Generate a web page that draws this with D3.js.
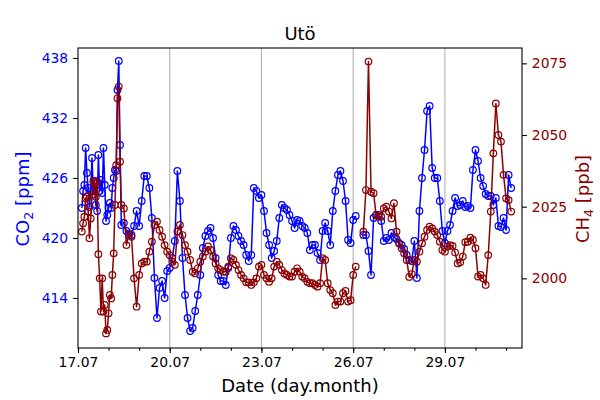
<!DOCTYPE html>
<html>
<head>
<meta charset="utf-8">
<script src="https://cdn.jsdelivr.net/npm/d3@7"></script>
<style>
  body { margin: 0; background: #fff; }
  text { font-family: "DejaVu Sans", sans-serif; }
</style>
</head>
<body>
<svg id="chart" width="600" height="400"></svg>
<script>
// hours since 17.07 00:00 (hourly at the start, then every 2 h)
const hours = [3,4,5,6,7,8,9,10,11,12,13,14,15,16,17,18,19,20,21,22,23,24,25,26,27,28,29,30,31,32,33,34,
  36,38,40,42,44,46,48,50,52,54,56,58,60,62,64,66,68,70,72,74,76,78,80,82,84,86,88,90,92,94,96,98,
  100,102,104,106,108,110,112,114,116,118,120,122,124,126,128,130,132,134,136,138,140,142,144,146,148,
  150,152,154,156,158,160,162,164,166,168,170,172,174,176,178,180,182,184,186,188,190,192,194,196,198,
  200,202,204,206,208,210,212,214,216,218,220,222,224,226,228,230,232,234,236,238,240,242,244,246,248,
  250,252,254,256,258,260,262,264,266,268,270,272,274,276,278,280,282,284,286,288,290,292,294,296,298,
  300,302,304,306,308,310,312,314,316,318,320,322,324,326,328,330,332,334,336,338,340];

// CO2 [ppm]
const co2 = [423.0,424.7,425.3,429.0,426.5,425.0,423.1,424.7,428.0,424.7,425.7,423.3,422.7,428.3,424.7,425.8,
  424.5,429.0,425.3,421.7,422.3,423.0,423.5,423.0,425.0,426.0,426.8,426.7,434.8,437.7,429.3,421.3,
  421.5,420.7,420.3,420.3,421.2,422.7,421.2,423.7,426.2,426.2,425.0,422.0,416.0,412.0,415.0,415.7,
  414.0,416.7,417.0,418.0,419.7,426.7,423.7,418.0,414.3,412.0,410.7,411.0,412.7,414.3,416.3,419.0,
  420.2,420.7,421.0,420.0,418.0,416.3,415.7,415.7,415.3,417.0,420.0,421.2,420.8,420.2,419.7,419.3,
  418.3,417.7,418.3,425.0,424.7,424.0,424.3,422.7,420.5,419.3,418.0,418.7,419.7,422.0,423.3,423.0,
  422.8,422.3,421.7,421.0,421.8,421.7,421.2,421.0,420.5,418.8,419.3,419.3,418.5,417.8,420.7,421.5,
  420.7,419.3,422.7,424.7,426.3,426.7,425.7,423.7,419.8,419.5,421.8,422.2,null,null,420.3,420.3,
  418.7,416.3,422.0,422.3,422.3,421.7,419.7,420.0,419.8,420.5,420.1,419.9,419.5,419.3,418.9,418.3,
  417.8,417.7,419.7,416.0,422.7,426.0,428.8,432.7,433.2,427.0,426.0,426.0,423.7,420.7,419.5,420.7,
  421.3,422.7,424.0,423.2,423.3,423.7,423.1,423.2,423.0,426.8,428.8,427.7,426.0,425.2,424.4,424.2,
  424.2,423.3,424.0,421.2,421.1,422.0,420.8,426.3,425.0];

// CH4 [ppb]
const ch4 = [2016.3,2019.2,2021.5,2027.9,2028.5,2023.3,2014.0,2020.9,2029.1,2033.9,2033.1,2028.5,2033.7,
  2008.4,2000.0,1988.4,2000.0,1988.4,1990.7,1980.8,1982.0,1987.8,1994.2,1993.0,2001.2,2008.7,2025.6,
  2039.5,2062.8,2066.9,2040.7,2025.6,
  2024.4,2011.6,2015.7,2014.5,2000.0,1990.1,2001.2,2005.2,2005.8,2005.8,2009.3,2012.8,2018.6,2019.8,
  2016.9,2014.5,2011.6,2009.3,2008.1,2005.8,2004.7,2016.3,2018.6,2015.1,2011.6,2009.3,2006.4,2002.3,
  2001.7,2003.5,2005.8,2007.6,2009.3,2011.1,2009.9,2007.6,2005.2,2003.5,2002.9,2002.3,2002.3,2004.1,
  2007.0,2006.4,2004.7,2002.9,2001.2,2000.0,1998.6,1998.6,1997.7,1998.6,2000.0,2004.1,2004.7,2001.2,
  2000.0,1998.8,2000.0,2004.1,2005.8,2004.7,2002.9,2001.7,2001.2,2000.6,2000.6,2002.3,2003.5,2002.3,
  2000.6,2000.0,1998.8,1998.3,1998.3,1997.7,1997.1,1998.3,2007.0,2006.4,1998.3,1995.9,1994.8,1990.7,
  1991.9,1991.9,1994.8,1995.6,1991.9,1992.4,2001.2,2004.1,null,null,2016.3,2030.8,2075.6,2030.2,
  2029.7,2022.0,2021.5,2021.5,2024.4,2025.0,2023.3,2020.9,2026.2,2016.3,2012.2,2010.5,2008.7,2006.4,
  2000.5,2001.5,2006.4,2005.8,2009.3,2012.2,2014.5,2016.9,2018.0,2017.4,2016.3,2015.1,2012.8,2009.9,
  2009.3,2011.1,2011.6,2011.3,2009.0,2005.2,2005.6,2007.6,2012.6,2012.8,2014.2,2013.4,2010.5,2000.6,
  2001.2,2000.0,1997.7,2008.1,2023.3,2043.6,2061.0,2050.0,2047.7,2036.1,2027.9,2027.3,2023.3];

const co2Ticks = [414, 420, 426, 432, 438];
const ch4Ticks = [2000, 2025, 2050, 2075];
const labelDays = [17, 20, 23, 26, 29];
const minorDays = d3.range(17, 32);

const blue = "#0000ff";
const darkred = "#8b0000";

const svg = d3.select("#chart");
const mLeft = 78, mRight = 522, mTop = 48, mBottom = 348;

const day = d => new Date(2023, 6, d);
const x = d3.scaleTime()
    .domain([day(17), new Date(2023, 6, 31, 12, 30)])
    .range([mLeft, mRight]);
const yCO2 = d3.scaleLinear().domain([409.0, 439.0]).range([mBottom, mTop]);
const yCH4 = d3.scaleLinear().domain([1975.7, 2080.35]).range([mBottom, mTop]);

const times = hours.map(h => new Date(2023, 6, 17, h));
const co2Data = times.map((t, i) => ({ t: t, v: co2[i] }));
const ch4Data = times.map((t, i) => ({ t: t, v: ch4[i] }));

// vertical grid at labelled days
svg.append("g")
    .selectAll("line")
    .data(labelDays.slice(1))
    .enter().append("line")
    .attr("x1", d => x(day(d)))
    .attr("x2", d => x(day(d)))
    .attr("y1", mTop)
    .attr("y2", mBottom)
    .attr("stroke", "#b0b0b0")
    .attr("stroke-width", 1.1);

// draws one series: line then hollow markers
function drawSeries(data, y, color) {
    const valid = data.filter(d => d.v != null);
    const line = d3.line()
        .defined(d => d.v != null)
        .x(d => x(d.t))
        .y(d => y(d.v));
    svg.append("path")
        .datum(data)
        .attr("fill", "none")
        .attr("stroke", color)
        .attr("stroke-width", 1.5)
        .attr("stroke-linejoin", "round")
        .attr("d", line);
    svg.append("g")
        .selectAll("circle")
        .data(valid)
        .enter().append("circle")
        .attr("cx", d => x(d.t))
        .attr("cy", d => y(d.v))
        .attr("r", 3.3)
        .attr("fill", "none")
        .attr("stroke", color)
        .attr("stroke-width", 1.2);
}

drawSeries(co2Data, yCO2, blue);
drawSeries(ch4Data, yCH4, darkred);

// frame
svg.append("rect")
    .attr("x", mLeft).attr("y", mTop)
    .attr("width", mRight - mLeft).attr("height", mBottom - mTop)
    .attr("fill", "none")
    .attr("stroke", "#000")
    .attr("stroke-width", 1.1);

function styleAxis(g, color) {
    g.select(".domain").remove();
    g.selectAll(".tick line").attr("stroke", "#000").attr("stroke-width", 1.1);
    g.selectAll(".tick text")
        .attr("fill", color)
        .style("font-family", "DejaVu Sans")
        .style("font-size", "13.9px");
}

// x axis: labelled ticks and daily minor ticks
svg.append("g")
    .attr("transform", `translate(0,${mBottom})`)
    .call(d3.axisBottom(x).tickValues(minorDays.map(day)).tickSize(2.8).tickFormat(""))
    .call(g => styleAxis(g, "#000"));
svg.append("g")
    .attr("transform", `translate(0,${mBottom})`)
    .call(d3.axisBottom(x).tickValues(labelDays.map(day)).tickSize(4.9).tickPadding(4.5)
        .tickFormat(d3.timeFormat("%d.%m")))
    .call(g => styleAxis(g, "#000"));

svg.append("g")
    .attr("transform", `translate(${mLeft},0)`)
    .call(d3.axisLeft(yCO2).tickValues(co2Ticks).tickSize(4.9).tickPadding(4.9).tickFormat(d3.format("d")))
    .call(g => styleAxis(g, blue));

svg.append("g")
    .attr("transform", `translate(${mRight},0)`)
    .call(d3.axisRight(yCH4).tickValues(ch4Ticks).tickSize(4.9).tickPadding(4.9).tickFormat(d3.format("d")))
    .call(g => styleAxis(g, darkred));

// title and axis labels
svg.append("text")
    .attr("x", (mLeft + mRight) / 2).attr("y", 40)
    .attr("text-anchor", "middle")
    .style("font-size", "18px")
    .text("Utö");

svg.append("text")
    .attr("x", (mLeft + mRight) / 2).attr("y", 392)
    .attr("text-anchor", "middle")
    .style("font-size", "18px")
    .text("Date (day.month)");

function yLabel(xPos, base, sub, unit, color) {
    const t = svg.append("text")
        .attr("transform", `translate(${xPos},199) rotate(-90)`)
        .attr("text-anchor", "middle")
        .attr("fill", color)
        .style("font-size", "18px");
    t.append("tspan").text(base);
    t.append("tspan").attr("dy", 3.5).style("font-size", "12.6px").text(sub);
    t.append("tspan").attr("dy", -3.5).text(" " + unit);
}
yLabel(29, "CO", "2", "[ppm]", blue);
yLabel(589, "CH", "4", "[ppb]", darkred);
</script>
</body>
</html>
